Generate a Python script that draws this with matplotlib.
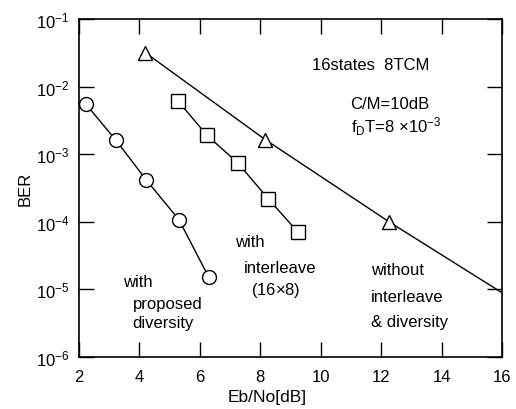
import matplotlib.pyplot as plt
import numpy as np

plt.rcParams['font.family'] = ['Liberation Sans', 'DejaVu Sans']
plt.rcParams['mathtext.fontset'] = 'custom'
plt.rcParams['mathtext.rm'] = 'Liberation Sans'
plt.rcParams['mathtext.it'] = 'Liberation Sans'

# proposed diversity
ebno_div = [2.23, 3.23, 4.22, 5.31, 6.30]
ber_div = [5.5e-3, 1.6e-3, 4.2e-4, 1.07e-4, 1.5e-5]

# interleave (16x8)
ebno_il = [5.28, 6.24, 7.26, 8.26, 9.25]
ber_il = [6.1e-3, 1.9e-3, 7.4e-4, 2.2e-4, 7.0e-5]

# without interleave & diversity (line runs on to 16 dB)
ebno_none = [4.19, 8.16, 12.26, 16.0]
ber_none = [3.2e-2, 1.65e-3, 1.0e-4, 8.9e-6]

xticks = [2, 4, 6, 8, 10, 12, 14, 16]
yticks = [1e-6, 1e-5, 1e-4, 1e-3, 1e-2, 1e-1]
ytick_labels = ["10$^{-6}$", "10$^{-5}$", "10$^{-4}$", "10$^{-3}$", "10$^{-2}$", "10$^{-1}$"]

fig = plt.figure(figsize=(5.16, 4.10), dpi=100)
ax = fig.add_axes([0.153, 0.127, 0.820, 0.824])

ax.plot(ebno_div, ber_div, color='black', lw=1, marker='o', ms=10,
        mfc='white', mec='black', mew=1)
ax.plot(ebno_il, ber_il, color='black', lw=1, marker='s', ms=9.5,
        mfc='white', mec='black', mew=1)
ax.plot(ebno_none, ber_none, color='black', lw=1, marker='^', ms=10.5,
        mfc='white', mec='black', mew=1, markevery=[0, 1, 2])

ax.set_yscale('log')
ax.set_xlim(2, 16)
ax.set_ylim(1e-6, 1e-1)
ax.set_xticks(xticks)
ax.set_yticks(yticks)
ax.set_yticklabels(ytick_labels)
ax.minorticks_off()
ax.tick_params(direction='in', length=11, width=1, top=True, right=True,
               labelsize=12)
ax.tick_params(axis='x', pad=9)
ax.tick_params(axis='y', pad=7)
for s in ax.spines.values():
    s.set_linewidth(1.2)

ax.set_xlabel("Eb/No[dB]", fontsize=12.5, labelpad=3, x=0.444)
ax.set_ylabel("BER", fontsize=12, labelpad=2)

fs = 12
ax.text(0.551, 0.852, "16states  8TCM", transform=ax.transAxes, fontsize=fs)
ax.text(0.641, 0.737, "C/M=10dB", transform=ax.transAxes, fontsize=fs)
ax.text(0.643, 0.668, "f$_{\\rm D}$T=8 $\\times$10$^{-3}$", transform=ax.transAxes, fontsize=fs)

ax.text(0.104, 0.210, "with", transform=ax.transAxes, fontsize=fs)
ax.text(0.127, 0.145, "proposed", transform=ax.transAxes, fontsize=fs)
ax.text(0.127, 0.089, "diversity", transform=ax.transAxes, fontsize=fs)

ax.text(0.369, 0.328, "with", transform=ax.transAxes, fontsize=fs)
ax.text(0.390, 0.251, "interleave", transform=ax.transAxes, fontsize=fs)
ax.text(0.407, 0.186, "(16$\\times$8)", transform=ax.transAxes, fontsize=fs)

ax.text(0.690, 0.246, "without", transform=ax.transAxes, fontsize=fs)
ax.text(0.690, 0.166, "interleave", transform=ax.transAxes, fontsize=fs)
ax.text(0.690, 0.092, "& diversity", transform=ax.transAxes, fontsize=fs)

fig.savefig("out.png", dpi=100)
